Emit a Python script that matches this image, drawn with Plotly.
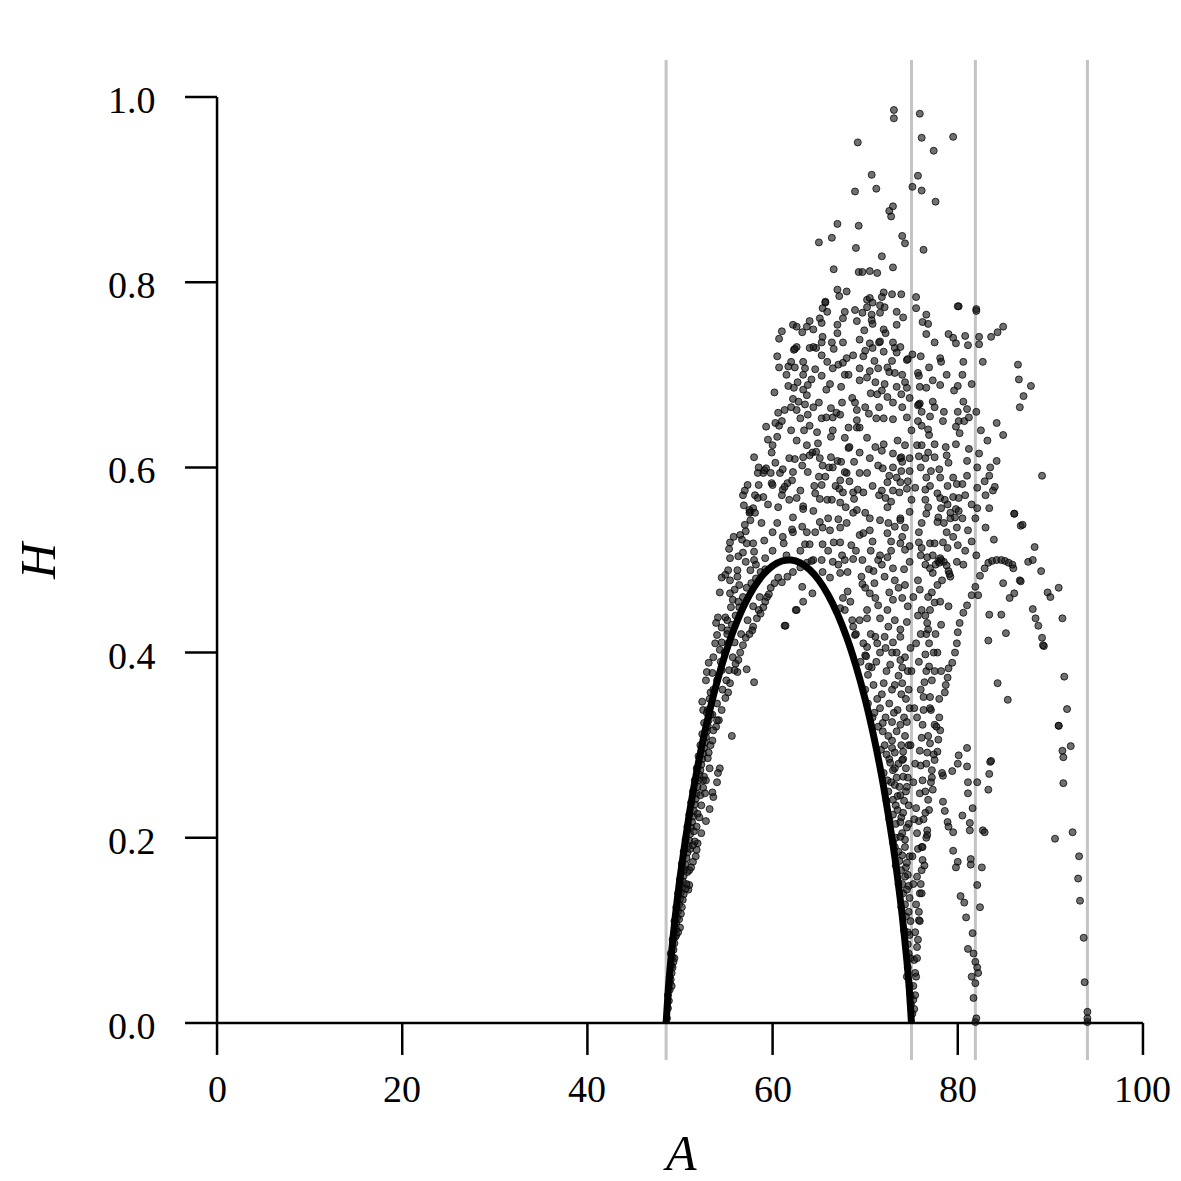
import plotly.graph_objects as go

# ---------------- data ----------------
curve_A = [48.5, 48.75, 49.0, 49.5, 50.0, 51.0, 52.0, 53.0, 54.0, 55.0, 56.0, 57.0, 58.0, 59.0,
           60.0, 61.0, 62.0, 63.0, 64.0, 65.0, 66.0, 67.0, 68.0, 69.0, 70.0, 71.0, 72.0, 73.0,
           73.5, 74.0, 74.5, 74.75, 75.0]
curve_H = [0.0, 0.0385, 0.0675, 0.1159, 0.1569, 0.2254, 0.2816, 0.3287, 0.3683, 0.4019, 0.4298,
           0.4526, 0.4707, 0.4843, 0.4937, 0.4989, 0.4999, 0.4968, 0.4896, 0.4781, 0.4622, 0.4418,
           0.4165, 0.3858, 0.3494, 0.3060, 0.2548, 0.1931, 0.1569, 0.1159, 0.0675, 0.0385, 0.0]

cut_A = [48.5, 75.0, 81.9, 94.0]

x_ticks = [0, 20, 40, 60, 80, 100]
x_tick_labels = ["0", "20", "40", "60", "80", "100"]
y_ticks = [0.0, 0.2, 0.4, 0.6, 0.8, 1.0]
y_tick_labels = ["0.0", "0.2", "0.4", "0.6", "0.8", "1.0"]

pts_top = [
    (69.2, 0.951), (68.9, 0.898), (67.0, 0.863), (65.0, 0.843), (66.4, 0.848), (69.3, 0.861),
    (69.0, 0.837), (66.6, 0.814), (69.3, 0.811), (67.0, 0.792), (67.2, 0.785), (68.0, 0.790),
    (65.7, 0.779), (73.1, 0.986), (73.1, 0.977), (75.9, 0.982), (76.1, 0.956), (79.5, 0.957),
    (77.4, 0.942), (70.7, 0.916), (71.2, 0.901), (75.7, 0.915), (75.1, 0.903), (76.1, 0.899),
    (77.6, 0.887), (73.0, 0.882), (72.6, 0.877), (72.8, 0.871), (74.0, 0.850), (74.3, 0.842),
    (76.3, 0.835), (71.8, 0.828), (73.0, 0.816), (69.7, 0.811), (70.5, 0.812), (71.3, 0.810),
    (72.0, 0.789), (71.8, 0.784), (72.9, 0.787), (73.9, 0.787), (75.5, 0.784), (70.2, 0.781),
    (70.5, 0.783), (80.1, 0.774), (82.0, 0.771),
]

pts_upper_left = [
    (65.7, 0.778), (65.4, 0.772), (65.9, 0.768), (67.8, 0.768), (68.9, 0.770), (62.2, 0.754),
    (62.6, 0.752), (63.2, 0.746), (63.7, 0.752), (64.0, 0.758), (64.4, 0.749), (65.1, 0.761),
    (65.3, 0.756), (67.0, 0.754), (67.6, 0.761), (69.1, 0.758), (61.0, 0.747), (60.7, 0.739),
    (67.0, 0.745), (65.4, 0.741), (65.3, 0.735), (62.3, 0.727), (62.6, 0.730), (62.4, 0.728),
    (64.0, 0.729), (64.7, 0.729), (64.4, 0.730), (66.4, 0.735), (66.6, 0.728), (67.6, 0.735),
    (65.3, 0.721), (65.9, 0.714), (66.5, 0.707), (67.1, 0.711), (67.6, 0.713), (68.0, 0.718),
    (68.7, 0.721), (60.7, 0.708), (61.7, 0.709), (62.0, 0.714), (62.4, 0.708), (63.3, 0.714),
    (63.5, 0.707), (64.6, 0.706), (65.3, 0.699), (63.3, 0.700), (62.7, 0.692), (63.8, 0.689),
    (61.7, 0.688), (62.3, 0.686), (63.3, 0.684), (63.7, 0.678), (60.2, 0.681), (65.8, 0.684),
    (67.4, 0.687), (67.8, 0.700), (62.2, 0.674), (62.8, 0.671), (63.5, 0.668), (62.6, 0.662),
    (63.0, 0.653), (63.8, 0.657), (64.4, 0.665), (60.6, 0.659), (61.3, 0.662), (62.0, 0.665),
    (66.3, 0.664), (65.3, 0.653), (65.8, 0.654), (66.5, 0.654), (66.9, 0.659), (67.3, 0.657),
    (68.6, 0.675), (68.9, 0.670), (69.1, 0.662), (69.1, 0.651), (59.3, 0.644), (60.3, 0.648),
    (60.7, 0.645), (63.4, 0.640), (64.8, 0.638), (66.5, 0.640), (68.2, 0.643), (69.1, 0.643),
    (59.5, 0.630), (60.0, 0.624), (60.5, 0.633), (59.9, 0.616), (62.6, 0.629), (63.7, 0.624),
    (64.9, 0.626), (66.3, 0.633), (67.8, 0.632), (68.2, 0.621), (68.3, 0.622), (64.3, 0.616),
    (64.7, 0.617), (64.0, 0.613), (65.1, 0.610), (66.3, 0.611), (67.0, 0.607), (67.4, 0.606),
    (58.0, 0.611), (62.4, 0.609), (63.3, 0.611), (63.2, 0.602), (65.4, 0.602), (66.1, 0.600),
    (66.5, 0.600), (68.8, 0.606), (59.3, 0.599), (59.0, 0.594), (58.4, 0.594), (59.8, 0.594),
    (60.8, 0.594), (61.1, 0.598), (59.1, 0.597), (62.2, 0.595), (68.0, 0.594), (65.7, 0.590),
    (65.3, 0.581), (67.3, 0.586), (67.2, 0.577), (67.6, 0.573), (68.7, 0.573), (69.2, 0.576),
    (57.3, 0.581), (58.5, 0.581), (59.9, 0.583), (60.0, 0.581), (61.6, 0.583), (62.1, 0.586),
    (61.1, 0.576), (61.0, 0.570), (61.3, 0.579), (56.8, 0.570), (58.1, 0.570), (58.4, 0.567),
    (59.0, 0.568), (62.6, 0.567), (64.6, 0.572), (65.1, 0.566), (65.9, 0.565), (66.4, 0.565),
    (56.9, 0.559), (57.9, 0.556), (57.6, 0.552), (57.5, 0.554), (60.6, 0.557), (63.3, 0.558),
    (63.3, 0.555), (64.4, 0.553), (67.3, 0.562), (67.9, 0.557), (68.8, 0.566), (69.1, 0.554),
]

pts_upper_right = [
    (70.2, 0.773), (70.8, 0.778), (71.6, 0.775), (72.1, 0.773), (69.7, 0.767), (70.7, 0.765),
    (71.6, 0.767), (73.4, 0.768), (74.1, 0.762), (75.5, 0.772), (76.6, 0.765), (76.2, 0.757),
    (76.8, 0.755), (80.0, 0.774), (82.0, 0.769), (70.7, 0.759), (70.8, 0.755), (69.9, 0.748),
    (72.0, 0.749), (72.2, 0.745), (73.4, 0.754), (69.4, 0.738), (70.5, 0.734), (71.5, 0.735),
    (71.6, 0.736), (73.0, 0.735), (70.8, 0.729), (70.0, 0.726), (73.2, 0.729), (73.8, 0.730),
    (73.4, 0.724), (74.5, 0.716), (74.6, 0.717), (75.1, 0.722), (76.6, 0.744), (79.0, 0.744),
    (79.5, 0.740), (79.8, 0.734), (80.8, 0.742), (81.1, 0.732), (82.3, 0.741), (82.3, 0.733),
    (83.6, 0.741), (84.3, 0.746), (84.9, 0.752), (78.1, 0.718), (78.2, 0.714), (80.6, 0.714),
    (82.7, 0.714), (76.9, 0.708), (75.7, 0.702), (75.8, 0.699), (86.5, 0.711), (86.6, 0.695),
    (87.9, 0.688), (87.1, 0.677), (86.7, 0.665), (69.4, 0.707), (70.5, 0.704), (71.4, 0.707),
    (72.4, 0.708), (72.9, 0.715), (72.6, 0.703), (73.2, 0.702), (69.4, 0.694), (70.2, 0.697),
    (71.1, 0.692), (72.1, 0.690), (74.3, 0.692), (77.3, 0.694), (78.1, 0.689), (75.9, 0.687),
    (76.6, 0.686), (80.0, 0.688), (79.6, 0.683), (73.4, 0.687), (74.5, 0.686), (70.6, 0.680),
    (71.3, 0.679), (72.4, 0.676), (71.8, 0.683), (73.9, 0.679), (74.8, 0.675), (75.8, 0.668),
    (75.9, 0.669), (75.7, 0.667), (76.1, 0.660), (74.0, 0.665), (77.3, 0.671), (77.5, 0.665),
    (80.6, 0.671), (81.0, 0.663), (70.4, 0.658), (71.2, 0.653), (72.0, 0.653), (73.0, 0.652),
    (74.5, 0.654), (78.4, 0.650), (80.1, 0.650), (80.7, 0.650), (81.2, 0.654), (75.7, 0.650),
    (76.1, 0.645), (76.8, 0.641), (76.9, 0.635), (79.8, 0.644), (80.2, 0.637), (84.2, 0.648),
    (84.9, 0.635), (69.4, 0.643), (70.2, 0.632), (71.1, 0.622), (71.8, 0.618), (73.5, 0.629),
    (74.3, 0.624), (75.6, 0.624), (76.1, 0.624), (78.7, 0.622), (83.2, 0.629), (69.4, 0.616),
    (73.8, 0.610), (73.9, 0.611), (74.0, 0.606), (75.8, 0.612), (76.8, 0.616), (77.5, 0.611),
    (76.5, 0.610), (78.8, 0.613), (79.0, 0.605), (81.0, 0.607), (84.2, 0.607), (71.4, 0.602),
    (71.9, 0.599), (73.0, 0.600), (73.9, 0.596), (74.8, 0.596), (77.1, 0.596), (78.0, 0.598),
    (82.1, 0.600), (83.5, 0.600), (69.4, 0.594), (70.2, 0.594), (72.6, 0.591), (73.4, 0.589),
    (73.8, 0.584), (74.6, 0.585), (76.6, 0.589), (78.1, 0.589), (79.5, 0.589), (81.0, 0.591),
    (83.4, 0.591), (82.9, 0.585), (89.1, 0.591), (72.4, 0.584), (73.7, 0.573), (74.5, 0.577),
    (75.4, 0.578), (76.5, 0.576), (78.9, 0.580), (79.9, 0.582), (80.5, 0.582), (82.1, 0.578),
    (83.8, 0.575), (84.0, 0.579), (69.8, 0.573), (71.5, 0.570), (72.2, 0.567), (72.8, 0.563),
    (72.4, 0.557), (77.8, 0.572), (78.1, 0.567), (78.6, 0.565), (78.9, 0.560), (79.5, 0.568),
    (80.1, 0.567), (79.8, 0.555), (80.1, 0.553), (76.8, 0.557), (78.2, 0.556), (82.1, 0.556),
    (83.4, 0.556), (86.1, 0.550), (70.0, 0.551), (71.6, 0.543), (73.8, 0.545), (74.8, 0.552),
    (77.9, 0.546), (79.2, 0.545), (81.9, 0.545),
]

pts_cloud_extra = [
    (60.5, 0.720), (61.5, 0.700), (64.2, 0.695), (66.2, 0.690), (68.2, 0.700), (69.8, 0.720),
    (71.0, 0.715), (72.0, 0.725), (74.0, 0.700), (76.0, 0.720), (77.5, 0.735), (78.8, 0.700),
    (80.5, 0.700), (81.5, 0.690), (61.0, 0.650), (62.0, 0.640), (64.0, 0.645), (65.0, 0.670),
    (67.5, 0.670), (70.0, 0.665), (71.5, 0.665), (73.0, 0.670), (75.0, 0.640), (77.0, 0.655),
    (78.5, 0.660), (80.0, 0.660), (82.0, 0.660), (82.5, 0.640), (58.5, 0.600), (60.3, 0.605),
    (61.8, 0.610), (63.8, 0.595), (65.0, 0.590), (67.8, 0.595), (70.5, 0.610), (72.0, 0.625),
    (73.0, 0.615), (74.8, 0.610), (76.0, 0.600), (77.5, 0.625), (79.8, 0.625), (81.2, 0.620),
    (82.3, 0.615), (57.0, 0.575), (59.5, 0.560), (61.8, 0.565), (63.0, 0.575), (64.5, 0.580),
    (66.8, 0.580), (68.3, 0.585), (70.8, 0.580), (71.8, 0.575), (73.0, 0.575), (75.0, 0.565),
    (76.5, 0.565), (77.0, 0.580), (80.8, 0.570), (81.5, 0.560), (83.0, 0.570), (58.8, 0.540),
    (60.5, 0.540), (62.2, 0.530), (64.6, 0.530), (66.0, 0.545), (68.0, 0.540), (70.5, 0.545),
    (72.5, 0.540), (74.0, 0.525), (75.8, 0.530), (76.6, 0.550), (78.5, 0.540), (80.5, 0.545),
    (81.5, 0.520), (83.0, 0.535), (60.0, 0.510), (61.5, 0.505), (63.0, 0.510), (66.0, 0.510),
    (67.5, 0.505), (69.0, 0.510), (70.8, 0.520), (72.8, 0.510), (74.8, 0.515), (76.0, 0.505),
    (79.5, 0.525), (80.8, 0.510), (82.0, 0.505), (70.0, 0.470), (71.0, 0.475), (72.6, 0.465),
    (73.6, 0.470), (74.2, 0.490), (70.4, 0.490), (71.4, 0.500), (72.8, 0.520), (70.6, 0.510),
]

pts_mid = [
    (57.5, 0.551), (58.1, 0.551), (57.6, 0.543), (57.0, 0.538), (57.1, 0.531), (56.5, 0.527),
    (56.7, 0.522), (55.4, 0.519), (55.8, 0.525), (57.2, 0.518), (57.9, 0.518), (58.0, 0.509),
    (59.1, 0.521), (60.0, 0.530), (61.1, 0.525), (61.2, 0.518), (62.2, 0.546), (63.2, 0.536),
    (63.7, 0.530), (62.1, 0.533), (63.5, 0.517), (64.0, 0.517), (65.1, 0.541), (65.4, 0.535),
    (66.2, 0.532), (67.3, 0.535), (67.1, 0.544), (68.7, 0.551), (65.4, 0.517), (66.6, 0.519),
    (67.3, 0.519), (68.5, 0.516), (69.4, 0.527), (55.3, 0.512), (55.4, 0.502), (56.3, 0.504),
    (56.8, 0.508), (57.1, 0.498), (58.0, 0.500), (59.2, 0.502), (58.2, 0.495), (57.6, 0.489),
    (56.2, 0.489), (55.2, 0.489), (54.9, 0.484), (54.5, 0.481), (55.4, 0.478), (56.2, 0.482),
    (56.4, 0.473), (55.9, 0.468), (54.3, 0.465), (55.4, 0.464), (55.7, 0.457), (55.5, 0.449),
    (56.4, 0.449), (54.1, 0.438), (54.9, 0.438), (53.9, 0.432), (55.1, 0.435), (54.5, 0.427),
    (55.1, 0.424), (54.0, 0.419), (53.8, 0.410), (54.5, 0.411), (55.2, 0.410), (55.9, 0.411),
    (53.6, 0.395), (54.3, 0.403), (53.1, 0.389), (52.9, 0.379), (53.5, 0.378), (52.8, 0.370),
    (54.5, 0.381), (55.3, 0.381), (56.2, 0.379), (53.3, 0.357), (52.4, 0.347), (52.5, 0.338),
    (53.0, 0.338), (53.5, 0.333), (54.2, 0.327), (57.2, 0.382), (58.0, 0.368), (60.6, 0.481),
    (61.0, 0.476), (61.6, 0.482), (62.2, 0.487), (63.0, 0.492), (63.7, 0.497), (64.4, 0.500),
    (64.2, 0.499), (59.4, 0.460), (59.2, 0.455), (59.0, 0.449), (58.5, 0.446), (58.3, 0.437),
    (57.9, 0.428), (57.8, 0.424), (57.1, 0.416), (56.8, 0.408), (56.5, 0.400), (56.3, 0.392),
    (55.9, 0.381), (55.4, 0.367), (55.2, 0.357), (54.9, 0.351), (54.5, 0.338), (54.0, 0.327),
    (53.9, 0.320), (59.6, 0.463), (58.7, 0.442), (57.5, 0.420), (56.0, 0.388), (63.2, 0.471),
    (64.3, 0.464), (63.3, 0.455), (62.5, 0.446), (61.3, 0.429), (65.3, 0.500), (66.5, 0.498),
    (67.1, 0.495), (67.8, 0.500), (68.7, 0.501), (65.4, 0.487), (66.2, 0.481), (67.3, 0.486),
    (68.1, 0.487), (68.1, 0.466), (67.6, 0.459), (68.4, 0.455), (67.3, 0.448), (67.8, 0.446),
    (68.6, 0.435), (68.7, 0.428), (68.9, 0.419), (69.4, 0.435), (61.4, 0.429), (62.6, 0.446),
    (53.2, 0.350), (53.6, 0.360), (54.0, 0.370), (54.4, 0.390), (54.8, 0.400), (55.1, 0.420),
    (55.6, 0.430), (56.0, 0.440), (56.3, 0.455), (56.8, 0.460), (57.2, 0.470), (57.7, 0.475),
    (58.2, 0.480), (58.7, 0.487), (59.2, 0.490), (54.0, 0.345), (54.6, 0.360), (55.0, 0.370),
    (55.7, 0.395), (56.6, 0.420), (57.3, 0.435), (57.9, 0.450), (58.6, 0.460), (59.8, 0.470),
    (60.2, 0.475),
]

pts_left_band = [
    (48.6, 0.005), (48.7, 0.016), (48.8, 0.024), (48.9, 0.036), (48.9, 0.043), (49.0, 0.047),
    (49.1, 0.054), (49.1, 0.062), (49.2, 0.071), (49.3, 0.066), (49.3, 0.079), (49.4, 0.086),
    (49.5, 0.093), (49.6, 0.101), (49.6, 0.108), (49.7, 0.114), (49.8, 0.121), (50.0, 0.103),
    (49.9, 0.128), (50.0, 0.134), (50.1, 0.141), (50.2, 0.147), (50.3, 0.153), (50.4, 0.159),
    (50.5, 0.166), (50.6, 0.171), (50.7, 0.178), (50.8, 0.184), (50.9, 0.144), (51.0, 0.149),
    (50.9, 0.191), (51.0, 0.197), (51.1, 0.204), (51.2, 0.211), (51.3, 0.217), (51.4, 0.174),
    (51.4, 0.223), (51.5, 0.229), (51.6, 0.236), (51.7, 0.180), (51.8, 0.187), (51.7, 0.242),
    (51.8, 0.248), (51.9, 0.194), (51.9, 0.255), (52.0, 0.262), (52.1, 0.268), (52.2, 0.273),
    (52.3, 0.279), (52.4, 0.285), (52.5, 0.291), (52.6, 0.297), (52.7, 0.303), (52.8, 0.309),
    (52.9, 0.315), (53.0, 0.321), (53.1, 0.327), (53.3, 0.333), (49.2, 0.060), (49.6, 0.095),
    (50.2, 0.125), (50.4, 0.139), (50.8, 0.163), (51.1, 0.188), (51.5, 0.207), (51.9, 0.226),
    (52.2, 0.246), (52.6, 0.266), (53.0, 0.286), (53.3, 0.300), (53.6, 0.316), (52.5, 0.254),
    (52.5, 0.262), (53.5, 0.249), (53.6, 0.244), (54.0, 0.260), (54.1, 0.270), (54.3, 0.275),
    (55.6, 0.310), (53.2, 0.231), (52.8, 0.218), (52.3, 0.205),
    (48.7, 0.030), (48.9, 0.050), (49.0, 0.075), (49.2, 0.090), (49.4, 0.110), (49.6, 0.125),
    (49.8, 0.140), (50.0, 0.155), (50.2, 0.172), (50.4, 0.185), (50.6, 0.198), (50.8, 0.212),
    (51.0, 0.225), (51.2, 0.238), (51.4, 0.250), (51.6, 0.262), (51.8, 0.275), (52.0, 0.288),
    (52.2, 0.300), (52.4, 0.312), (52.6, 0.324), (52.9, 0.335), (49.9, 0.112), (50.3, 0.133),
    (50.7, 0.150), (51.2, 0.168), (51.6, 0.196), (52.1, 0.222), (52.7, 0.248), (53.2, 0.275),
    (49.1, 0.040), (49.4, 0.070), (49.8, 0.098), (50.1, 0.118), (50.6, 0.145), (51.0, 0.165),
    (51.4, 0.192), (51.8, 0.212), (52.3, 0.235), (52.8, 0.262), (53.1, 0.292), (53.5, 0.305),
]

pts_right = [
    (86.1, 0.550), (86.8, 0.537), (87.0, 0.538), (83.9, 0.522), (88.3, 0.514), (89.0, 0.488),
    (84.9, 0.475), (86.1, 0.464), (85.6, 0.459), (89.7, 0.465), (90.0, 0.460), (90.9, 0.470),
    (88.1, 0.447), (88.4, 0.437), (88.7, 0.429), (89.1, 0.416), (89.3, 0.407), (89.2, 0.408),
    (91.3, 0.437), (83.4, 0.441), (84.7, 0.441), (85.2, 0.421), (83.3, 0.413), (91.5, 0.374),
    (84.3, 0.367), (85.4, 0.349), (91.8, 0.339), (90.9, 0.321), (82.4, 0.483), (82.9, 0.491),
    (83.3, 0.497), (83.7, 0.499), (84.2, 0.500), (84.7, 0.500), (85.1, 0.499), (85.5, 0.497),
    (85.9, 0.495), (86.0, 0.491), (87.6, 0.498), (88.1, 0.500), (86.7, 0.478), (86.8, 0.477),
    (81.9, 0.471), (81.5, 0.462), (82.2, 0.462), (81.0, 0.451), (80.6, 0.443), (80.2, 0.432),
    (80.0, 0.422), (79.9, 0.410), (79.7, 0.400), (79.4, 0.389), (79.0, 0.383), (78.9, 0.373),
    (78.6, 0.357), (78.7, 0.365), (77.6, 0.495), (77.9, 0.499), (78.2, 0.500), (78.5, 0.498),
    (78.8, 0.494), (79.0, 0.488), (79.2, 0.482), (79.1, 0.485), (78.0, 0.497),
    (76.1, 0.446), (77.0, 0.446), (77.5, 0.454), (78.1, 0.455), (76.8, 0.460), (77.2, 0.465),
    (77.8, 0.473), (78.3, 0.478), (77.3, 0.486), (76.5, 0.495), (77.0, 0.491), (76.7, 0.503),
    (77.3, 0.505), (77.0, 0.518), (77.5, 0.518), (78.4, 0.519), (78.9, 0.513), (78.1, 0.502),
    (79.9, 0.498), (80.6, 0.495), (80.0, 0.516), (76.1, 0.540), (77.8, 0.541), (78.8, 0.530),
    (79.2, 0.551), (79.7, 0.546), (79.9, 0.535), (81.1, 0.532), (75.7, 0.478), (75.9, 0.468),
    (75.2, 0.460), (75.8, 0.519), (76.1, 0.513),
    (69.8, 0.529), (70.5, 0.532), (72.4, 0.529), (73.2, 0.536), (73.8, 0.543), (74.3, 0.535),
    (73.8, 0.518), (74.3, 0.511), (69.7, 0.500), (71.6, 0.505), (72.4, 0.503), (71.8, 0.495),
    (72.1, 0.482), (73.2, 0.478), (73.0, 0.491), (74.3, 0.473), (70.5, 0.464), (71.1, 0.459),
    (70.2, 0.446), (73.0, 0.457), (74.0, 0.459), (71.4, 0.451), (72.4, 0.446), (71.6, 0.437),
    (73.2, 0.435), (70.2, 0.437), (72.5, 0.428), (73.8, 0.425), (74.5, 0.433), (71.1, 0.417),
    (72.1, 0.417), (73.0, 0.411), (73.8, 0.417), (70.2, 0.406), (71.6, 0.400), (72.9, 0.400),
    (73.8, 0.392), (74.0, 0.384), (70.7, 0.384), (70.3, 0.376), (72.7, 0.387), (72.0, 0.367),
    (73.2, 0.365), (74.0, 0.367), (70.0, 0.397), (70.1, 0.396), (69.6, 0.482), (69.7, 0.474),
    (70.9, 0.488), (74.8, 0.498), (74.6, 0.450), (74.9, 0.405), (71.3, 0.350), (72.6, 0.345),
    (74.4, 0.350), (73.5, 0.338), (70.8, 0.330),
    (77.8, 0.400), (78.2, 0.430), (79.0, 0.450), (77.5, 0.380), (78.0, 0.330),
]

pts_right_of_arm = [
    (69.0, 0.420), (69.8, 0.410), (70.6, 0.420), (71.3, 0.410), (72.2, 0.405), (73.4, 0.400),
    (74.3, 0.395), (69.5, 0.390), (70.4, 0.385), (71.2, 0.390), (72.3, 0.380), (73.6, 0.375),
    (74.6, 0.380), (70.0, 0.360), (70.9, 0.365), (71.8, 0.355), (72.9, 0.360), (73.9, 0.355),
    (74.7, 0.360), (70.3, 0.345), (71.6, 0.340), (72.2, 0.330), (73.1, 0.335), (74.2, 0.330),
    (74.8, 0.340), (71.4, 0.320), (72.5, 0.310), (73.4, 0.315), (74.3, 0.310), (74.7, 0.300),
    (71.7, 0.295), (72.6, 0.285), (73.6, 0.280), (74.4, 0.275), (72.0, 0.270), (72.8, 0.260),
    (73.7, 0.255), (74.6, 0.265), (72.3, 0.240), (73.3, 0.235), (74.2, 0.240), (74.7, 0.235),
    (72.6, 0.220), (73.3, 0.215), (74.0, 0.205), (74.7, 0.215), (73.0, 0.195), (73.6, 0.185),
    (74.3, 0.190), (74.8, 0.180), (73.3, 0.170), (73.9, 0.165), (74.6, 0.160), (73.6, 0.150),
    (74.1, 0.140), (74.8, 0.135), (73.9, 0.125), (74.4, 0.115), (74.9, 0.110), (74.2, 0.100),
    (74.6, 0.085), (74.9, 0.070), (74.5, 0.050), (74.8, 0.040), (74.95, 0.020),
    (71.0, 0.335), (71.9, 0.315), (72.9, 0.305), (73.9, 0.300), (72.3, 0.290), (73.2, 0.275),
    (74.1, 0.285), (72.5, 0.250), (73.5, 0.245), (74.4, 0.250), (73.0, 0.225), (73.9, 0.222),
    (73.3, 0.200), (74.3, 0.198), (73.7, 0.175), (74.4, 0.168), (74.0, 0.150), (74.7, 0.148),
    (74.3, 0.128), (74.6, 0.098), (74.7, 0.075),
]

pts_low_right = [
    (90.9, 0.321), (92.2, 0.299), (91.3, 0.294), (91.4, 0.287), (91.4, 0.259), (90.5, 0.199),
    (92.4, 0.206), (93.1, 0.180), (93.0, 0.156), (93.2, 0.132), (93.6, 0.092), (93.7, 0.044),
    (94.0, 0.012), (94.0, 0.001), (94.0, 0.005), (81.0, 0.297), (80.1, 0.289), (80.0, 0.280),
    (79.4, 0.272), (78.4, 0.267), (81.0, 0.277), (83.5, 0.282), (83.6, 0.283), (83.4, 0.269),
    (83.3, 0.252), (82.1, 0.260), (81.1, 0.260), (81.1, 0.248), (78.4, 0.239), (78.6, 0.229),
    (80.5, 0.224), (81.6, 0.232), (78.9, 0.217), (79.0, 0.212), (79.5, 0.206), (81.3, 0.216),
    (81.3, 0.208), (82.7, 0.208), (82.9, 0.206), (79.5, 0.186), (80.0, 0.174), (79.8, 0.168),
    (81.4, 0.177), (81.4, 0.171), (82.6, 0.168), (82.1, 0.149), (80.3, 0.137), (80.7, 0.130),
    (82.4, 0.125), (80.9, 0.114), (81.6, 0.097), (81.1, 0.080), (81.7, 0.075), (81.9, 0.066),
    (82.1, 0.060), (82.2, 0.054), (81.5, 0.050), (81.9, 0.043), (81.7, 0.027), (81.9, 0.001),
    (82.0, 0.005),
    (71.9, 0.324), (72.9, 0.325), (73.8, 0.322), (74.5, 0.325), (72.1, 0.300), (72.9, 0.297),
    (73.2, 0.292), (74.1, 0.293), (74.0, 0.284), (72.7, 0.281), (73.0, 0.273), (73.4, 0.265),
    (74.1, 0.266), (72.4, 0.262), (73.2, 0.257), (73.8, 0.246), (74.5, 0.255), (73.0, 0.241),
    (73.5, 0.230), (74.1, 0.227), (73.8, 0.217), (74.5, 0.211), (73.8, 0.201), (73.2, 0.190),
    (74.0, 0.181), (74.5, 0.173), (74.3, 0.158), (74.5, 0.144), (74.7, 0.120), (74.8, 0.095),
    (77.5, 0.322), (78.1, 0.316), (77.9, 0.306), (77.0, 0.302), (76.7, 0.292), (77.5, 0.284),
    (78.3, 0.270), (77.2, 0.273), (76.2, 0.262), (76.8, 0.241), (76.5, 0.227), (76.7, 0.208),
    (76.1, 0.190), (76.2, 0.176), (76.1, 0.165), (75.9, 0.140), (75.8, 0.111), (75.6, 0.082),
    (75.4, 0.054), (75.2, 0.025), (77.8, 0.293), (77.2, 0.265), (77.3, 0.252), (76.7, 0.203),
    (75.1, 0.010), (75.2, 0.040), (75.3, 0.068), (75.4, 0.098), (75.5, 0.128), (75.6, 0.158),
    (75.7, 0.188), (75.8, 0.218), (75.9, 0.248), (76.0, 0.278), (76.1, 0.308), (76.3, 0.338),
    (76.4, 0.368), (76.5, 0.398), (76.6, 0.420), (76.3, 0.352), (76.6, 0.380), (76.9, 0.410),
    (76.7, 0.432), (76.2, 0.322), (75.9, 0.294), (75.6, 0.205), (75.5, 0.232), (76.5, 0.440),
    (76.8, 0.425), (77.0, 0.352), (76.9, 0.385), (77.1, 0.338), (75.1, 0.180), (75.2, 0.260),
    (74.9, 0.300), (75.3, 0.340), (75.0, 0.380), (75.5, 0.410), (74.6, 0.060), (74.9, 0.030),
    (75.3, 0.015), (75.5, 0.050), (75.7, 0.090), (75.8, 0.120), (76.0, 0.150), (76.2, 0.190),
    (76.3, 0.220), (76.5, 0.250), (76.6, 0.280), (76.8, 0.310), (77.0, 0.340), (77.2, 0.370),
    (77.4, 0.400), (77.6, 0.420), (75.4, 0.030), (75.6, 0.070), (75.9, 0.110), (76.1, 0.140),
    (76.4, 0.170), (76.6, 0.200), (76.9, 0.230), (77.1, 0.260), (77.4, 0.290), (77.7, 0.320),
    (78.0, 0.350), (78.2, 0.380), (76.0, 0.360), (75.8, 0.390), (75.6, 0.330), (75.4, 0.280),
    (75.3, 0.220), (75.2, 0.150), (76.0, 0.420), (75.7, 0.440),
]

scatter_pts = (pts_top + pts_upper_left + pts_upper_right + pts_cloud_extra + pts_mid +
               pts_left_band + pts_right + pts_right_of_arm + pts_low_right)
scatter_A = [p[0] for p in scatter_pts]
scatter_H = [p[1] for p in scatter_pts]

# ---------------- layout constants ----------------
X_RANGE = [-4, 104]
Y_RANGE = [-0.04, 1.04]
FONT = "Liberation Serif, Times New Roman, serif"
TICK_PX = 32
PLOT_PX = 1000


def xpaper(x):
    return (x - X_RANGE[0]) / (X_RANGE[1] - X_RANGE[0])


def ypaper(y):
    return (y - Y_RANGE[0]) / (Y_RANGE[1] - Y_RANGE[0])


fig = go.Figure()

fig.add_trace(go.Scatter(
    x=scatter_A, y=scatter_H, mode="markers",
    marker=dict(size=7, color="rgba(25,25,25,0.62)",
                line=dict(width=1, color="rgba(0,0,0,0.75)")),
    hoverinfo="skip", showlegend=False))

fig.add_trace(go.Scatter(
    x=curve_A, y=curve_H, mode="lines",
    line=dict(color="black", width=7, shape="spline", smoothing=0.6),
    hoverinfo="skip", showlegend=False))

shapes = []
for c in cut_A:
    shapes.append(dict(type="line", xref="x", yref="paper", x0=c, x1=c, y0=0, y1=1,
                       line=dict(color="#c4c4c4", width=3), layer="below"))

# axes drawn at data origin
shapes.append(dict(type="line", xref="x", yref="y", x0=x_ticks[0], x1=x_ticks[-1], y0=0, y1=0,
                   line=dict(color="black", width=2.5), layer="below"))
shapes.append(dict(type="line", xref="x", yref="y", x0=0, x1=0, y0=y_ticks[0], y1=y_ticks[-1],
                   line=dict(color="black", width=2.5), layer="below"))
dy_tick = TICK_PX / PLOT_PX * (Y_RANGE[1] - Y_RANGE[0])
dx_tick = TICK_PX / PLOT_PX * (X_RANGE[1] - X_RANGE[0])
for t in x_ticks:
    shapes.append(dict(type="line", xref="x", yref="y", x0=t, x1=t, y0=0, y1=-dy_tick,
                       line=dict(color="black", width=2.5), layer="below"))
for t in y_ticks:
    shapes.append(dict(type="line", xref="x", yref="y", x0=0, x1=-dx_tick, y0=t, y1=t,
                       line=dict(color="black", width=2.5), layer="below"))

annotations = []
for t, lab in zip(x_ticks, x_tick_labels):
    annotations.append(dict(text=lab, xref="paper", yref="paper", x=xpaper(t), y=-0.029,
                            xanchor="center", yanchor="middle", showarrow=False,
                            font=dict(family=FONT, size=38, color="black")))
for t, lab in zip(y_ticks, y_tick_labels):
    annotations.append(dict(text=lab, xref="paper", yref="paper", x=-0.022, y=ypaper(t) - 0.003,
                            xanchor="right", yanchor="middle", showarrow=False,
                            font=dict(family=FONT, size=38, color="black")))
annotations.append(dict(text="<i>A</i>", xref="paper", yref="paper", x=xpaper(50), y=-0.093,
                        xanchor="center", yanchor="middle", showarrow=False,
                        font=dict(family=FONT, size=50, color="black")))
annotations.append(dict(text="<i>H</i>", xref="paper", yref="paper", x=-0.142, y=ypaper(0.5),
                        xanchor="center", yanchor="middle", showarrow=False, textangle=-90,
                        font=dict(family=FONT, size=50, color="black")))

# the page body has an 8px default margin, so the figure is 8px smaller than the window
fig.update_layout(
    width=1173, height=1173,
    margin=dict(l=172, r=1, t=52, b=121),
    paper_bgcolor="white", plot_bgcolor="white",
    xaxis=dict(range=X_RANGE, visible=False, showgrid=False, zeroline=False),
    yaxis=dict(range=Y_RANGE, visible=False, showgrid=False, zeroline=False),
    shapes=shapes, annotations=annotations,
)

fig.write_html("out.html")
